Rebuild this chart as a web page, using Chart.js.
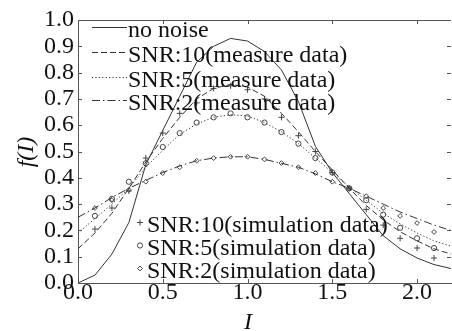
<!DOCTYPE html>
<html>
<head>
<meta charset="utf-8">
<script src="https://cdn.jsdelivr.net/npm/chart.js@4/dist/chart.umd.min.js"></script>
<style>
  html, body { margin: 0; padding: 0; background: #fff; overflow: hidden; }
  #wrap { width: 456px; height: 331px; }
</style>
</head>
<body>
<div id="wrap"><canvas id="chart" width="456" height="331"></canvas></div>
<script>
// I-Werte der Kurven (Schritt 0.1)
const I_VALUES = [0.0, 0.1, 0.2, 0.3, 0.4, 0.5, 0.6, 0.7, 0.8, 0.9, 1.0, 1.1,
                  1.2, 1.3, 1.4, 1.5, 1.6, 1.7, 1.8, 1.9, 2.0, 2.1, 2.2];
const noNoise = [0.00, 0.03, 0.11, 0.23, 0.45, 0.58, 0.71, 0.84, 0.90, 0.93, 0.92, 0.88,
                 0.81, 0.69, 0.52, 0.42, 0.34, 0.26, 0.18, 0.13, 0.095, 0.07, 0.055];
const snr10Measure = [0.13, 0.19, 0.265, 0.36, 0.46, 0.55, 0.63, 0.70, 0.74, 0.755, 0.745, 0.71,
                      0.645, 0.575, 0.50, 0.43, 0.36, 0.295, 0.24, 0.195, 0.16, 0.13, 0.11];
const snr5Measure = [0.19, 0.245, 0.30, 0.36, 0.44, 0.505, 0.565, 0.605, 0.63, 0.64, 0.635, 0.61,
                     0.575, 0.53, 0.475, 0.42, 0.365, 0.315, 0.265, 0.225, 0.19, 0.16, 0.14];
const snr2Measure = [0.25, 0.285, 0.325, 0.36, 0.39, 0.42, 0.445, 0.465, 0.475, 0.48, 0.48, 0.47,
                     0.455, 0.44, 0.415, 0.385, 0.36, 0.33, 0.30, 0.27, 0.245, 0.22, 0.20];

// Simulationsdaten (Marker)
const SIM_I = [0.1, 0.2, 0.3, 0.4, 0.5, 0.6, 0.7, 0.8, 0.9, 1.0, 1.1,
               1.2, 1.3, 1.4, 1.5, 1.6, 1.7, 1.8, 1.9, 2.0, 2.1];
const snr10Sim = [0.205, 0.285, 0.35, 0.475, 0.57, 0.645, 0.685, 0.74, 0.75, 0.735, 0.70,
                  0.63, 0.56, 0.50, 0.42, 0.36, 0.28, 0.22, 0.17, 0.133, 0.095];
const snr5Sim = [0.255, 0.32, 0.385, 0.455, 0.517, 0.57, 0.61, 0.63, 0.645, 0.63, 0.61,
                 0.574, 0.53, 0.475, 0.42, 0.36, 0.315, 0.26, 0.21, 0.17, 0.133];
const snr2Sim = [0.285, 0.315, 0.354, 0.385, 0.418, 0.44, 0.465, 0.475, 0.48, 0.48, 0.47,
                 0.456, 0.44, 0.418, 0.385, 0.36, 0.33, 0.285, 0.255, 0.228, 0.194];

const X_TICKS = [0.0, 0.5, 1.0, 1.5, 2.0];
const Y_TICKS = [0.0, 0.1, 0.2, 0.3, 0.4, 0.5, 0.6, 0.7, 0.8, 0.9, 1.0];

const LINE_LABELS = ['no noise', 'SNR:10(measure data)', 'SNR:5(measure data)', 'SNR:2(measure data)'];
const SIM_LABELS = ['SNR:10(simulation data)', 'SNR:5(simulation data)', 'SNR:2(simulation data)'];

const FONT = '"Liberation Serif", "Times New Roman", serif';
const INK = '#333';

function toPoints(xs, ys) {
    return xs.map((x, i) => ({ x: x, y: ys[i] }));
}

const lineSets = [
    { values: noNoise, dash: [] },
    { values: snr10Measure, dash: [6, 3] },
    { values: snr5Measure, dash: [1.2, 2.2] },
    { values: snr2Measure, dash: [8, 3, 1.5, 3] }
].map((s, i) => ({
    label: LINE_LABELS[i],
    data: toPoints(I_VALUES, s.values),
    showLine: true,
    borderColor: INK,
    borderWidth: 1,
    borderDash: s.dash,
    pointRadius: 0,
    tension: 0
}));

const simSets = [
    { values: snr10Sim, style: 'cross', r: 3 },
    { values: snr5Sim, style: 'circle', r: 2.6 },
    { values: snr2Sim, style: 'rectRot', r: 2.4 }
].map((s, i) => ({
    label: SIM_LABELS[i],
    data: toPoints(SIM_I, s.values),
    showLine: false,
    pointStyle: s.style,
    pointRadius: s.r,
    pointBorderColor: '#444',
    pointBackgroundColor: 'rgba(255,255,255,0)',
    pointBorderWidth: 1
}));

// Legenden, Achsentitel, Ticks nach innen
const decorPlugin = {
    id: 'decor',
    afterDraw(chart) {
        const ctx = chart.ctx;
        const area = chart.chartArea;
        const xs = chart.scales.x;
        const ys = chart.scales.y;
        ctx.save();
        ctx.strokeStyle = '#555';
        ctx.lineWidth = 1;
        ctx.setLineDash([]);
        ctx.beginPath();
        ctx.moveTo(area.left, area.top + 0.5);
        ctx.lineTo(area.right, area.top + 0.5);
        X_TICKS.forEach(v => {
            const px = Math.round(xs.getPixelForValue(v)) + 0.5;
            ctx.moveTo(px, area.bottom);
            ctx.lineTo(px, area.bottom - 4);
            ctx.moveTo(px, area.top);
            ctx.lineTo(px, area.top + 4);
        });
        Y_TICKS.forEach(v => {
            const py = Math.round(ys.getPixelForValue(v)) + 0.5;
            ctx.moveTo(area.left, py);
            ctx.lineTo(area.left + 4, py);
            ctx.moveTo(area.right, py);
            ctx.lineTo(area.right - 4, py);
        });
        ctx.stroke();

        // obere Legende (Linien)
        ctx.font = '24px ' + FONT;
        ctx.fillStyle = '#111';
        ctx.textBaseline = 'alphabetic';
        ctx.textAlign = 'left';
        const topBase = [37, 62, 87, 110];
        lineSets.forEach((ds, i) => {
            const ly = topBase[i] - 9.5;
            ctx.strokeStyle = INK;
            ctx.setLineDash(ds.borderDash);
            ctx.beginPath();
            ctx.moveTo(92, ly);
            ctx.lineTo(127, ly);
            ctx.stroke();
            ctx.fillText(ds.label, 128, topBase[i]);
        });

        // untere Legende (Marker)
        ctx.setLineDash([]);
        const botBase = [232, 255, 278];
        simSets.forEach((ds, i) => {
            ctx.strokeStyle = '#444';
            ctx.fillStyle = 'rgba(255,255,255,0)';
            Chart.helpers.drawPoint(ctx, {
                pointStyle: ds.pointStyle, radius: ds.pointRadius, rotation: 0, borderWidth: 1
            }, 140, botBase[i] - 9.5);
            ctx.fillStyle = '#111';
            ctx.fillText(ds.label, 147, botBase[i]);
        });

        // Achsentitel
        ctx.font = 'italic 24px ' + FONT;
        ctx.textAlign = 'center';
        ctx.fillText('I', 248, 329);
        ctx.translate(33, 152);
        ctx.rotate(-Math.PI / 2);
        ctx.fillText('f(I)', 0, 0);
        ctx.restore();
    }
};

new Chart(document.getElementById('chart'), {
    type: 'scatter',
    data: { datasets: lineSets.concat(simSets) },
    options: {
        responsive: false,
        animation: false,
        events: [],
        layout: { padding: { top: 20, right: 2, left: 0, bottom: 0 } },
        plugins: {
            legend: { display: false },
            tooltip: { enabled: false }
        },
        scales: {
            x: {
                type: 'linear',
                min: 0,
                max: 2.2,
                afterFit(scale) { scale.height = 48; },
                grid: { display: false, drawTicks: false },
                border: { display: true, color: '#555', width: 1 },
                ticks: {
                    stepSize: 0.5,
                    includeBounds: false,
                    autoSkip: false,
                    padding: -5,
                    color: '#111',
                    font: { family: FONT, size: 24 },
                    maxRotation: 0,
                    callback: v => Number(v).toFixed(1)
                }
            },
            y: {
                type: 'linear',
                min: 0,
                max: 1.0,
                afterFit(scale) { scale.width = 78; },
                grid: { display: false, drawTicks: false },
                border: { display: true, color: '#555', width: 1 },
                ticks: {
                    stepSize: 0.1,
                    autoSkip: false,
                    padding: 4,
                    color: '#111',
                    font: { family: FONT, size: 24 },
                    callback: v => Number(v).toFixed(1)
                }
            }
        }
    },
    plugins: [decorPlugin]
});
</script>
</body>
</html>
